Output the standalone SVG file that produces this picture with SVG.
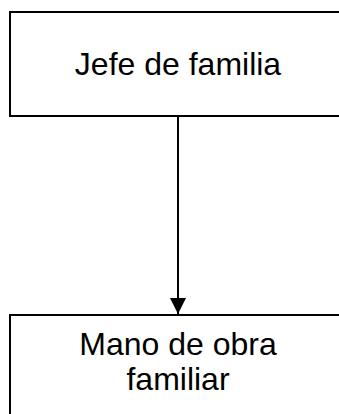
<svg xmlns="http://www.w3.org/2000/svg" width="339" height="414" viewBox="0 0 339 414">
<defs>
<style>
.box{fill:#fff;stroke:#000;stroke-width:2}
.t{font-family:"Liberation Sans",Arial,sans-serif;font-size:32px;fill:#000;text-anchor:middle}
.c{stroke:#000;stroke-width:2;fill:none}
</style>
<marker id="ah" markerUnits="userSpaceOnUse" markerWidth="16" markerHeight="16" refX="16" refY="8" orient="auto">
<path d="M0,0 L16,8 L0,16 Z" fill="#000"/>
</marker>
</defs>
<rect width="339" height="414" fill="#fff"/>
<g id="connectors">
<line class="c" x1="178" y1="116" x2="178" y2="314" marker-end="url(#ah)"/>
</g>
<g id="jefe">
<rect class="box" x="10" y="12" width="336" height="104"/>
<text class="t" x="178" y="75">Jefe de familia</text>
</g>
<g id="mano">
<rect class="box" x="10" y="315" width="336" height="110"/>
<text class="t" x="178" y="355">Mano de obra</text>
<text class="t" x="178" y="390">familiar</text>
</g>
</svg>
